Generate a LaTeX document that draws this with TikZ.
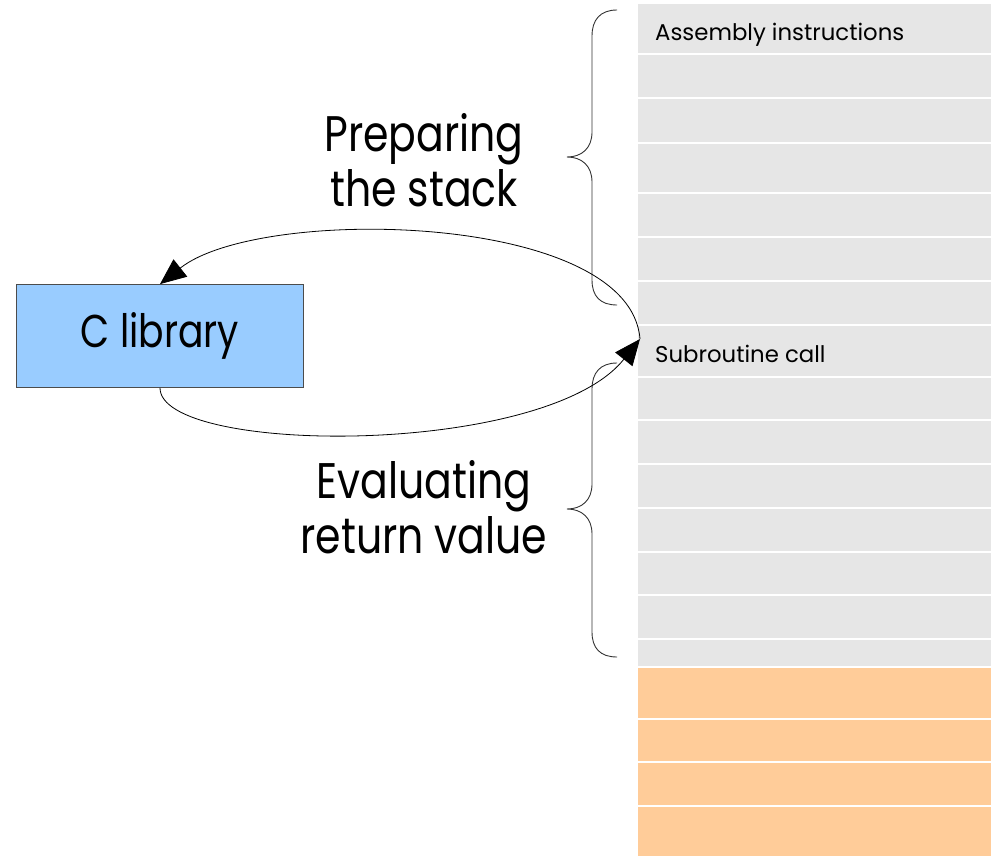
\documentclass[tikz,border=0pt]{standalone}
\usepackage{fontspec}
\setmainfont{Poppins}
\newfontfamily\narrowfont[FakeStretch=0.82]{Poppins}
\usetikzlibrary{arrows.meta}
\definecolor{stackgray}{HTML}{E6E6E6}
\definecolor{stackorange}{HTML}{FFCC99}
\definecolor{libblue}{HTML}{99CCFF}
\definecolor{bracegray}{HTML}{333333}
\begin{document}
\begin{tikzpicture}[x=1pt,y=-1pt,
  cell/.style={draw=white,line width=1.6pt},
  bigtext/.style={font=\narrowfont\fontsize{50}{52}\selectfont,align=center,inner sep=0pt},
  celltext/.style={font=\fontsize{22.8}{24}\selectfont,anchor=base west,inner sep=0pt},
  flow/.style={line width=0.8pt,-{Triangle[length=26pt,width=22pt]}},
  bracepath/.style={draw=bracegray,line width=0.9pt}]
\useasboundingbox (0,0) rectangle (1000,856);
% stack of instruction slots
\foreach \a/\b in {3/54,54/98,98/143,143/193,193/237,237/281,281/325,325/377,377/420,420/464,464/508,508/552,552/595,595/639,639/667}
  \filldraw[cell,fill=stackgray] (637,\a) rectangle (992,\b);
\foreach \a/\b in {667/719,719/762,762/806,806/857}
  \filldraw[cell,fill=stackorange] (637,\a) rectangle (992,\b);
\node[celltext] (asm) at (655,41) {Assembly instructions};
\node[celltext] (call) at (655,362) {Subroutine call};
\coordinate (callpt) at (640,339);
% braces
\draw[bracepath] (617,10) .. controls (600,10) and (592,20) .. (592,36) -- (592,132)
  .. controls (592,148) and (582,157) .. (567,157) .. controls (582,157) and (592,166) .. (592,182)
  -- (592,280) .. controls (592,296) and (600,305) .. (617,305);
\draw[bracepath] (617,363) .. controls (600,363) and (592,373) .. (592,389) -- (592,484)
  .. controls (592,500) and (582,509) .. (567,509) .. controls (582,509) and (592,518) .. (592,534)
  -- (592,632) .. controls (592,648) and (600,657) .. (617,657);
% labels
\node[bigtext] (prep) at (424,160) {Preparing\\[3pt]the stack};
\node[bigtext] (eval) at (424,507) {Evaluating\\[3pt]return value};
% library box
\node[draw=black!70,line width=0.8pt,fill=libblue,minimum width=287pt,minimum height=103pt,
  font=\narrowfont\fontsize{46}{46}\selectfont,inner sep=0pt] (lib) at (160,336) {C library};
% call and return
\draw[flow] (callpt) .. controls (630,212) and (260,205) .. (lib.north);
\draw[flow] (lib.south) .. controls (160,455) and (545,458) .. (callpt);
\end{tikzpicture}
\end{document}
